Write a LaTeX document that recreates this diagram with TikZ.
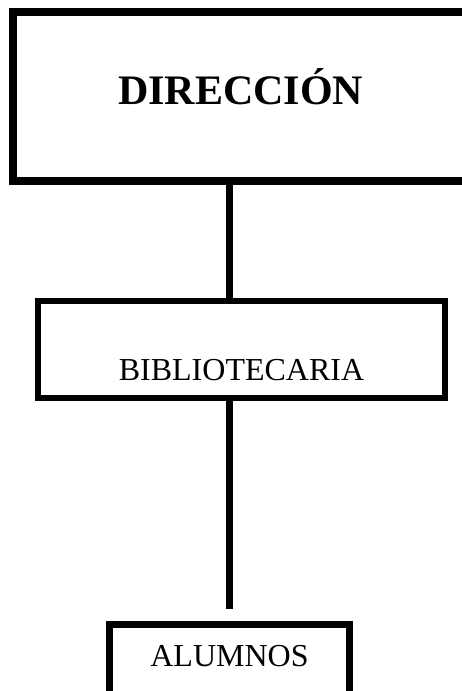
\documentclass[tikz,border=0pt]{standalone}
\usepackage{fontspec}
\setmainfont{Liberation Serif}
\tikzset{
  puesto/.style={draw, rectangle, inner sep=0pt, line width=6pt},
  enlace/.style={line width=6.5pt}
}
\begin{document}
\begin{tikzpicture}[x=1pt,y=-1pt]
\useasboundingbox (0,0) rectangle (462,691);
\clip (0,0) rectangle (462,691);
\node[puesto, line width=8pt, minimum width=454.5pt, minimum height=168.7pt,
  font=\fontsize{42}{46}\selectfont\bfseries, text height=28pt, text depth=13.3pt]
  (dir) at (240.7,96.65) {DIRECCIÓN};
\node[puesto, minimum width=407pt, minimum height=96.5pt,
  font=\fontsize{32}{36}\selectfont, text height=61.5pt, text depth=0pt]
  (bibl) at (241.5,349.25) {BIBLIOTECARIA};
\node[puesto, line width=6.5pt, minimum width=240pt, minimum height=75.5pt,
  font=\fontsize{32}{36}\selectfont, text height=22pt, text depth=13.1pt]
  (alum) at (229.5,662.25) {ALUMNOS};
\coordinate (hueco) at ([yshift=11.8pt]alum.north);
\draw[enlace] (dir.south -| alum.north) -- (bibl.north -| alum.north);
\draw[enlace] (bibl.south -| alum.north) -- (hueco);
\end{tikzpicture}
\end{document}
